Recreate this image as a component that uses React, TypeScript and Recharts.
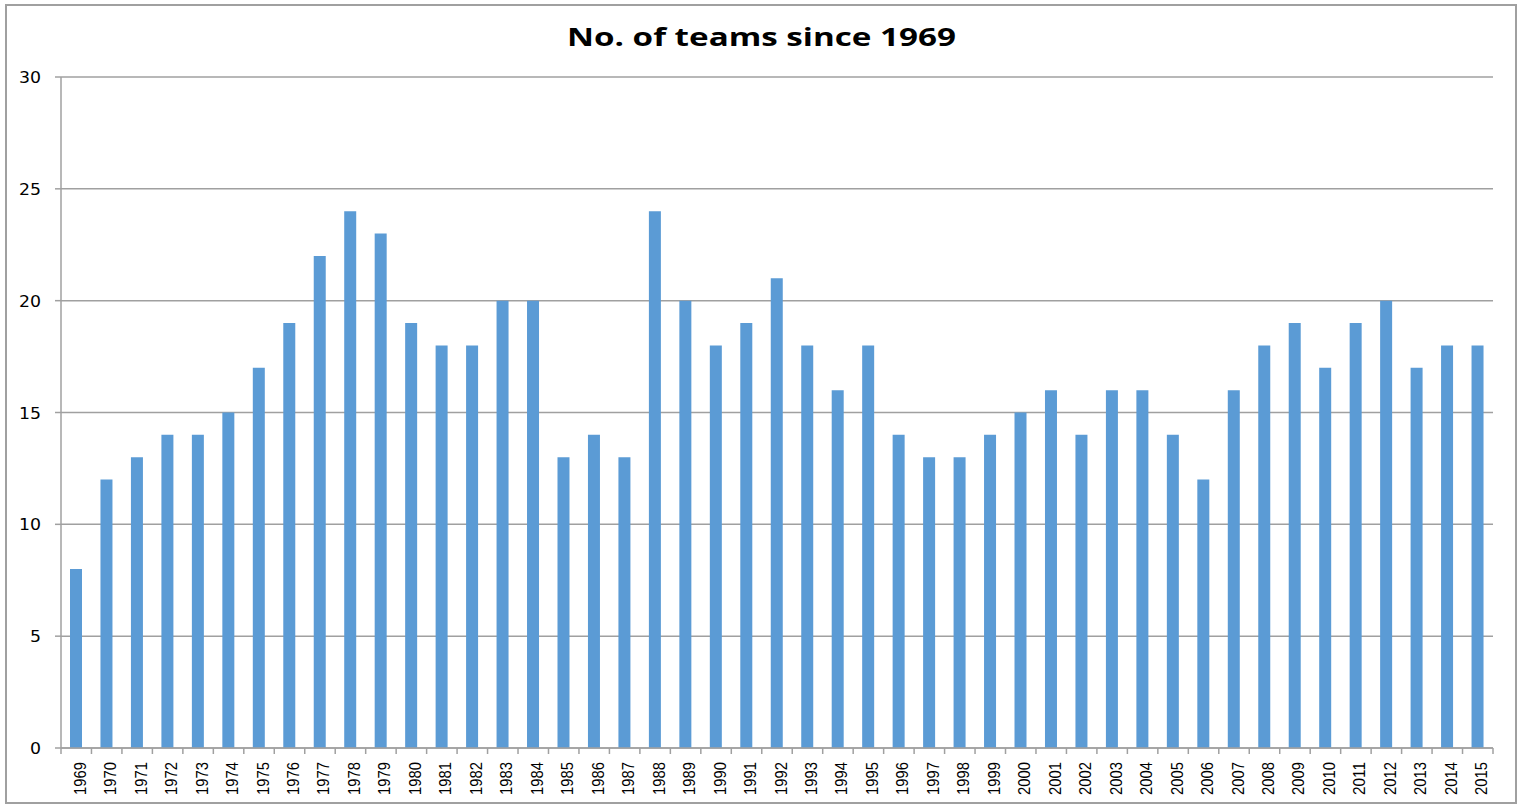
import { BarChart, Bar, XAxis, YAxis, CartesianGrid } from 'recharts'

const years = [
  '1969', '1970', '1971', '1972', '1973', '1974', '1975', '1976', '1977', '1978',
  '1979', '1980', '1981', '1982', '1983', '1984', '1985', '1986', '1987', '1988',
  '1989', '1990', '1991', '1992', '1993', '1994', '1995', '1996', '1997', '1998',
  '1999', '2000', '2001', '2002', '2003', '2004', '2005', '2006', '2007', '2008',
  '2009', '2010', '2011', '2012', '2013', '2014', '2015',
]

const teams = [
  8, 12, 13, 14, 14, 15, 17, 19, 22, 24,
  23, 19, 18, 18, 20, 20, 13, 14, 13, 24,
  20, 18, 19, 21, 18, 16, 18, 14, 13, 13,
  14, 15, 16, 14, 16, 16, 14, 12, 16, 18,
  19, 17, 19, 20, 17, 18, 18,
]

const yTicks = [0, 5, 10, 15, 20, 25, 30]

const data = years.map((year, i) => ({ year, teams: teams[i] }))

const WIDTH = 1517
const HEIGHT = 804
const PLOT_LEFT = 61
const PLOT_RIGHT = 1493
const AXIS_Y = 748
const GRID = '#a0a0a0'
const step = (PLOT_RIGHT - PLOT_LEFT) / years.length

function YearTick(props: any) {
  const { x, payload, index } = props
  return (
    <g>
      <line x1={x + step / 2} x2={x + step / 2} y1={AXIS_Y} y2={AXIS_Y + 6} stroke={GRID} strokeWidth={1.5} />
      {index === 0 && (
        <line x1={x - step / 2} x2={x - step / 2} y1={AXIS_Y} y2={AXIS_Y + 6} stroke={GRID} strokeWidth={1.5} />
      )}
      <text
        transform={`translate(${x + 9.5}, ${AXIS_Y + 14}) rotate(-90)`}
        textAnchor="end"
        textLength={33}
        lengthAdjust="spacingAndGlyphs"
        fontFamily="'Liberation Sans', Arial, sans-serif"
        fontSize={16.5}
        fill="#000"
      >
        {payload.value}
      </text>
    </g>
  )
}

function CountTick(props: any) {
  const { y, payload } = props
  const label = String(payload.value)
  return (
    <text
      x={41}
      y={y + 6}
      textAnchor="end"
      textLength={label.length * 11}
      lengthAdjust="spacingAndGlyphs"
      fontFamily="'DejaVu Sans', Verdana, sans-serif"
      fontSize={16}
      fill="#000"
    >
      {label}
    </text>
  )
}

export default function App() {
  return (
    <div style={{ position: 'absolute', left: 0, top: 0, width: WIDTH, height: HEIGHT, background: '#fff' }}>
      <div
        style={{
          position: 'absolute',
          left: 5,
          top: 4,
          width: 1508,
          height: 796,
          border: `2px solid ${GRID}`,
        }}
      />
      <svg style={{ position: 'absolute', left: 0, top: 0 }} width={WIDTH} height={60}>
        <text
          x={567}
          y={46}
          textLength={389}
          lengthAdjust="spacingAndGlyphs"
          fontFamily="'Open Sans', sans-serif"
          fontWeight="bold"
          fontSize={25}
          fill="#000"
        >
          No. of teams since 1969
        </text>
      </svg>
      <div style={{ position: 'absolute', left: 0, top: 0 }}>
        <BarChart
          width={WIDTH}
          height={HEIGHT}
          data={data}
          margin={{ top: 77, right: WIDTH - PLOT_RIGHT, bottom: 0, left: 0 }}
        >
          <CartesianGrid vertical={false} stroke={GRID} strokeWidth={1.5} />
          <XAxis
            dataKey="year"
            interval={0}
            height={HEIGHT - AXIS_Y}
            axisLine={{ stroke: GRID, strokeWidth: 1.5 }}
            tickLine={false}
            tick={<YearTick />}
          />
          <YAxis
            domain={[0, 30]}
            ticks={yTicks}
            width={PLOT_LEFT}
            axisLine={{ stroke: GRID, strokeWidth: 1.5 }}
            tickLine={{ stroke: GRID, strokeWidth: 1.5 }}
            tickSize={6}
            tick={<CountTick />}
          />
          <Bar dataKey="teams" fill="#5b9bd5" barSize={12} isAnimationActive={false} />
        </BarChart>
      </div>
    </div>
  )
}
